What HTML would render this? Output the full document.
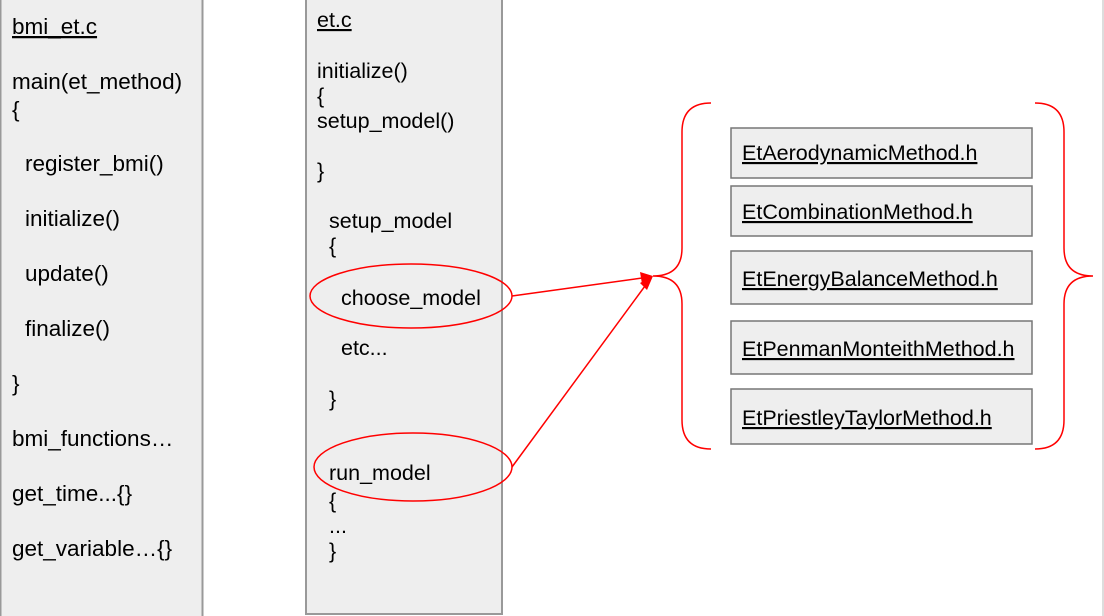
<!DOCTYPE html>
<html><head><style>body{margin:0;background:#fff}svg{display:block}</style></head><body>
<svg width="1104" height="616" xmlns="http://www.w3.org/2000/svg" font-family="Liberation Sans, Arial, sans-serif" font-size="22.5" fill="#000">
<rect x="0.5" y="-2" width="202" height="620" fill="#eeeeee" stroke="#999" stroke-width="2"/>
<rect x="306" y="-2" width="196" height="616" fill="#eeeeee" stroke="#999" stroke-width="2"/>
<line x1="1103" y1="0" x2="1103" y2="616" stroke="#ddd" stroke-width="2"/>
<g>
<text x="12" y="34" text-decoration="underline">bmi_et.c</text>
<text x="12" y="89">main(et_method)</text>
<text x="12" y="117">{</text>
<text x="25" y="171">register_bmi()</text>
<text x="25" y="226">initialize()</text>
<text x="25" y="281">update()</text>
<text x="25" y="336">finalize()</text>
<text x="12" y="391">}</text>
<text x="12" y="446">bmi_functions…</text>
<text x="12" y="501">get_time...{}</text>
<text x="12" y="556">get_variable…{}</text>
</g>
<g font-size="21.5">
<text x="317" y="27" text-decoration="underline">et.c</text>
<text x="317" y="78">initialize()</text>
<text x="317" y="103">{</text>
<text x="317" y="128">setup_model()</text>
<text x="317" y="178">}</text>
<text x="329" y="228">setup_model</text>
<text x="329" y="253">{</text>
<text x="341" y="305">choose_model</text>
<text x="341" y="355">etc...</text>
<text x="329" y="406">}</text>
<text x="329" y="480">run_model</text>
<text x="329" y="508">{</text>
<text x="329" y="533">...</text>
<text x="329" y="558">}</text>
</g>
<g fill="none" stroke="#f00" stroke-width="1.5">
<ellipse cx="411" cy="296" rx="101" ry="32"/>
<ellipse cx="413" cy="467" rx="99" ry="34"/>
<path d="M711,103 Q682,103 682,132 L682,248 Q682,276 653,276 Q682,276 682,304 L682,420 Q682,449 711,449"/>
<path d="M1035,103 Q1064,103 1064,132 L1064,248 Q1064,276 1093,276 Q1064,276 1064,304 L1064,420 Q1064,449 1035,449"/>
<line x1="512" y1="296" x2="642" y2="278"/>
<line x1="512" y1="467" x2="645" y2="286"/>
</g>
<polygon points="653,276 640,272 642,284" fill="#f00"/>
<polygon points="653,276 640,283 647,290" fill="#f00"/>
<g fill="#eeeeee" stroke="#777" stroke-width="1.5">
<rect x="731" y="128" width="301" height="50"/>
<rect x="731" y="186" width="301" height="50"/>
<rect x="731" y="251" width="301" height="53"/>
<rect x="731" y="321" width="301" height="53"/>
<rect x="731" y="389" width="301" height="55"/>
</g>
<g font-size="21.5" text-decoration="underline">
<text x="742" y="160">EtAerodynamicMethod.h</text>
<text x="742" y="219">EtCombinationMethod.h</text>
<text x="742" y="286">EtEnergyBalanceMethod.h</text>
<text x="742" y="356">EtPenmanMonteithMethod.h</text>
<text x="742" y="425">EtPriestleyTaylorMethod.h</text>
</g>
</svg>
</body></html>
